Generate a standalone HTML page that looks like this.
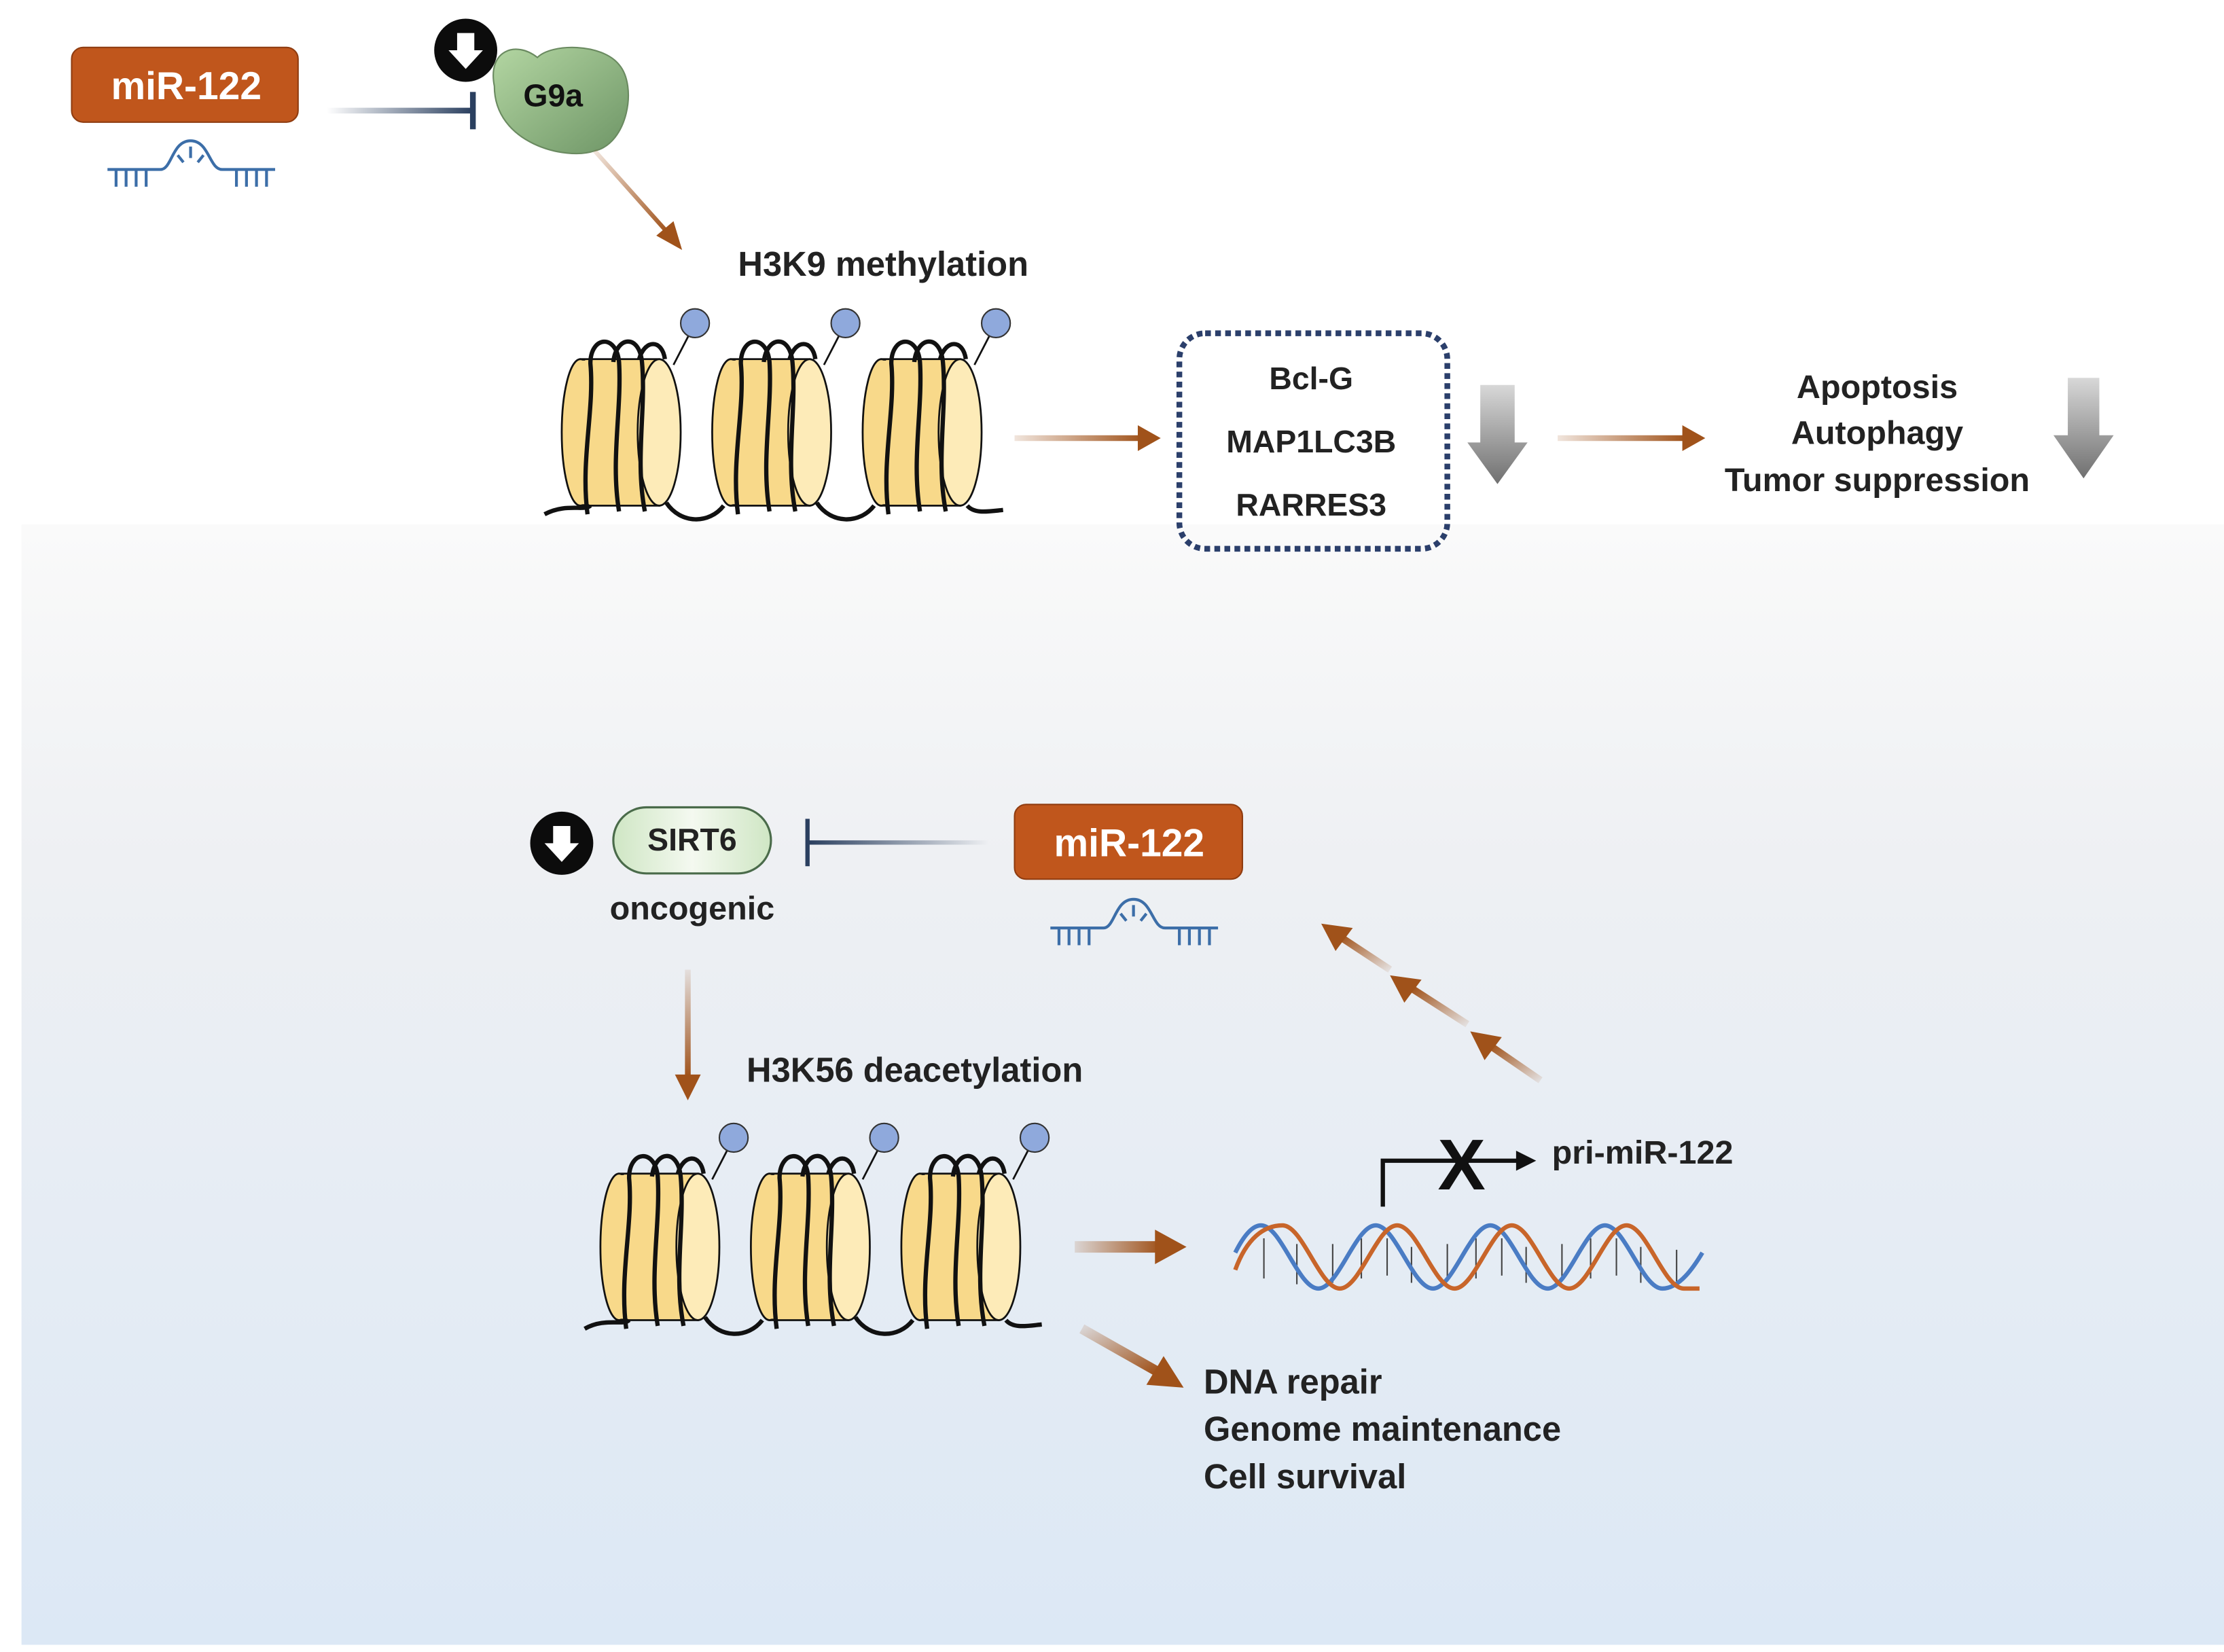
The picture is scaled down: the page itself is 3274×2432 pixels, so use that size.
<!DOCTYPE html>
<html><head><meta charset="utf-8"><style>
html,body{margin:0;padding:0;background:#fff}
svg{display:block}
text{font-family:"Liberation Sans",sans-serif;font-weight:bold}
</style></head><body>
<svg width="3274" height="2432" viewBox="0 0 1552 1150" preserveAspectRatio="none" xmlns="http://www.w3.org/2000/svg">
<defs>
<linearGradient id="bg" x1="0" y1="0" x2="0" y2="1"><stop offset="0" stop-color="#fafafa"/><stop offset="0.3" stop-color="#eef0f3"/><stop offset="1" stop-color="#dce8f5"/></linearGradient>
<linearGradient id="g9a" x1="0" y1="0" x2="1" y2="1"><stop offset="0" stop-color="#b3d6a2"/><stop offset="1" stop-color="#6e9566"/></linearGradient>
<linearGradient id="sirt" x1="0" y1="0" x2="1" y2="0"><stop offset="0" stop-color="#cfe6c4"/><stop offset="0.5" stop-color="#f4f9f0"/><stop offset="1" stop-color="#cfe6c4"/></linearGradient>
<linearGradient id="inhL" x1="0" y1="0" x2="1" y2="0"><stop offset="0" stop-color="#2a3f5f" stop-opacity="0"/><stop offset="1" stop-color="#2a3f5f"/></linearGradient>
<linearGradient id="inhR" x1="1" y1="0" x2="0" y2="0"><stop offset="0" stop-color="#2a3f5f" stop-opacity="0"/><stop offset="1" stop-color="#2a3f5f"/></linearGradient>
<linearGradient id="brH" x1="0" y1="0" x2="1" y2="0"><stop offset="0" stop-color="#a0521a" stop-opacity="0.15"/><stop offset="1" stop-color="#a0521a"/></linearGradient>
<linearGradient id="brV" x1="0" y1="0" x2="0" y2="1"><stop offset="0" stop-color="#a0521a" stop-opacity="0.1"/><stop offset="1" stop-color="#a0521a"/></linearGradient>
<linearGradient id="brD" x1="0" y1="0" x2="1" y2="1"><stop offset="0" stop-color="#a0521a" stop-opacity="0.15"/><stop offset="1" stop-color="#a0521a"/></linearGradient>
<linearGradient id="brU" x1="1" y1="1" x2="0" y2="0"><stop offset="0" stop-color="#a0521a" stop-opacity="0.1"/><stop offset="1" stop-color="#a0521a"/></linearGradient>
<linearGradient id="gray" x1="0" y1="0" x2="0" y2="1"><stop offset="0" stop-color="#d8d8d8"/><stop offset="1" stop-color="#707070"/></linearGradient>
<g id="nuc">
 <rect x="15" y="0" width="55" height="102" fill="#f8d98a" stroke="#111" stroke-width="1.3"/>
 <ellipse cx="15" cy="51" rx="13" ry="51" fill="#f8d98a" stroke="#111" stroke-width="1.3"/>
 <rect x="15" y="1" width="55" height="100" fill="#f8d98a"/>
 <ellipse cx="70" cy="51" rx="15" ry="51" fill="#fdebb8" stroke="#111" stroke-width="1.3"/>
 <path d="M20 108 C15 70 25 35 22 3 C22 -16 40 -18 42 2 C44 35 36 70 42 106" fill="none" stroke="#111" stroke-width="3"/>
 <path d="M38 2 C40 -16 56 -18 58 2 C61 35 53 70 60 106" fill="none" stroke="#111" stroke-width="3"/>
 <path d="M56 0 C60 -14 72 -14 74 0" fill="none" stroke="#111" stroke-width="3"/>
 <line x1="80" y1="4" x2="95" y2="-25" stroke="#111" stroke-width="1.3"/>
 <circle cx="95" cy="-25" r="10" fill="#8fa9dc" stroke="#333" stroke-width="1"/>
</g>
<g id="rna" fill="none" stroke="#3c6ea8" stroke-width="2">
 <path d="M0 0 H37 C45 0 45 -20 58 -20 C71 -20 71 0 80 0 H117"/>
 <path d="M6 0 V12 M13 0 V12 M20 0 V12 M27 0 V12 M90 0 V12 M97 0 V12 M104 0 V12 M111 0 V12 M49 -10 L53 -5 M58 -16 V-8 M67 -10 L63 -5"/>
</g>
<g id="dn">
 <circle r="22" fill="#0c0c0c"/>
 <path d="M-6 -12 H6 V0 H12 L0 13 L-12 0 H-6 Z" fill="#fff"/>
</g>
</defs>

<rect x="15" y="365" width="1537" height="780" fill="url(#bg)"/>

<!-- TOP -->
<rect x="50" y="33" width="158" height="52" rx="8" fill="#c0561c" stroke="#8f3c10" stroke-width="1"/>
<text x="130" y="69" font-size="27" fill="#fff" text-anchor="middle">miR-122</text>
<use href="#rna" x="75" y="118"/>
<rect x="228" y="75" width="102" height="4" fill="url(#inhL)"/>
<rect x="328" y="64" width="4" height="26" fill="#2a3f5f"/>
<path d="M345 60 C340 35 360 28 375 40 C385 30 420 30 432 45 C445 60 438 100 415 105 C395 112 345 100 345 60 Z" fill="url(#g9a)" stroke="#6a8a60" stroke-width="1"/>
<text x="386" y="74" font-size="22" fill="#111" text-anchor="middle">G9a</text>
<use href="#dn" x="325" y="35"/>
<line x1="415" y1="105" x2="466" y2="162" stroke="url(#brD)" stroke-width="3"/>
<path d="M476 174 L458 164 L470 154 Z" fill="#a0521a"/>
<text x="515" y="192" font-size="24" fill="#222">H3K9 methylation</text>

<use href="#nuc" x="390" y="250"/>
<use href="#nuc" x="495" y="250"/>
<use href="#nuc" x="600" y="250"/>
<path d="M380 358 C395 350 408 356 412 352 M465 350 C475 365 495 365 505 352 M570 350 C580 365 600 365 610 352 M675 352 C680 358 690 356 700 355" fill="none" stroke="#111" stroke-width="3"/>

<rect x="708" y="303" width="90" height="4" fill="url(#brH)"/>
<path d="M810 305 L794 296 L794 314 Z" fill="#a0521a"/>
<rect x="823" y="232" width="187" height="150" rx="18" fill="none" stroke="#2b3f6b" stroke-width="4" stroke-dasharray="4 3"/>
<text x="915" y="271" font-size="22" fill="#222" text-anchor="middle">Bcl-G</text>
<text x="915" y="315" font-size="22" fill="#222" text-anchor="middle">MAP1LC3B</text>
<text x="915" y="359" font-size="22" fill="#222" text-anchor="middle">RARRES3</text>
<path d="M1033 268 H1057 V308 H1066 L1045 337 L1024 308 H1033 Z" fill="url(#gray)"/>
<rect x="1087" y="303" width="90" height="4" fill="url(#brH)"/>
<path d="M1190 305 L1174 296 L1174 314 Z" fill="#a0521a"/>
<text x="1310" y="277" font-size="23" fill="#222" text-anchor="middle">Apoptosis</text>
<text x="1310" y="309" font-size="23" fill="#222" text-anchor="middle">Autophagy</text>
<text x="1310" y="342" font-size="23" fill="#222" text-anchor="middle">Tumor suppression</text>
<path d="M1443 263 H1465 V303 H1475 L1454 333 L1433 303 H1443 Z" fill="url(#gray)"/>

<!-- BOTTOM -->
<use href="#dn" x="392" y="587"/>
<rect x="428" y="562" width="110" height="46" rx="23" fill="url(#sirt)" stroke="#4a6b4a" stroke-width="1.5"/>
<text x="483" y="592" font-size="22" fill="#222" text-anchor="middle">SIRT6</text>
<text x="483" y="640" font-size="23" fill="#222" text-anchor="middle">oncogenic</text>
<rect x="562" y="570" width="3" height="33" fill="#2a3f5f"/>
<rect x="564" y="585" width="126" height="3" fill="url(#inhR)"/>
<rect x="708" y="560" width="159" height="52" rx="8" fill="#c0561c" stroke="#8f3c10" stroke-width="1"/>
<text x="788" y="596" font-size="27" fill="#fff" text-anchor="middle">miR-122</text>
<use href="#rna" x="733" y="646"/>

<rect x="478" y="675" width="4" height="75" fill="url(#brV)"/>
<path d="M480 766 L471 748 L489 748 Z" fill="#a0521a"/>
<text x="521" y="753" font-size="24" fill="#222">H3K56 deacetylation</text>

<use href="#nuc" x="417" y="817"/>
<use href="#nuc" x="522" y="817"/>
<use href="#nuc" x="627" y="817"/>
<path d="M408 925 C422 917 435 923 439 919 M492 917 C502 932 522 932 532 919 M597 917 C607 932 627 932 637 919 M702 919 C707 925 717 923 727 922" fill="none" stroke="#111" stroke-width="3"/>

<rect x="750" y="864" width="60" height="8" fill="url(#brH)"/>
<path d="M828 868 L806 856 L806 880 Z" fill="#a0521a"/>
<line x1="755" y1="925" x2="808" y2="955" stroke="url(#brD)" stroke-width="7"/>
<path d="M826 966 L800 964 L812 944 Z" fill="#a0521a"/>
<text x="840" y="970" font-size="24" fill="#222">DNA repair</text>
<text x="840" y="1003" font-size="24" fill="#222">Genome maintenance</text>
<text x="840" y="1036" font-size="24" fill="#222">Cell survival</text>

<!-- helix -->
<g stroke="#444" stroke-width="1">
<path d="M882 862V890M905 866V894M930 866V893M950 862V890M968 862V888M985 868V893M1010 866V892M1030 862V890M1048 862V888M1065 868V893M1090 866V892M1110 862V890M1128 862V888M1145 868V893M1170 870V892"/>
</g>
<path d="M862 872 C868 860 874 853 880 853 C894 853 906 897 920 897 C934 897 946 853 960 853 C974 853 986 897 1000 897 C1014 897 1026 853 1040 853 C1054 853 1066 897 1080 897 C1094 897 1106 853 1120 853 C1134 853 1146 897 1160 897 C1172 897 1182 882 1188 872" fill="none" stroke="#4a7cc4" stroke-width="3"/>
<path d="M862 884 C870 862 882 853 895 853 C909 853 921 897 935 897 C949 897 961 853 975 853 C989 853 1001 897 1015 897 C1029 897 1041 853 1055 853 C1069 853 1081 897 1095 897 C1109 897 1121 853 1135 853 C1149 853 1161 897 1175 897 L1186 897" fill="none" stroke="#c8652a" stroke-width="3"/>

<path d="M965 840 V808 H1060" fill="none" stroke="#111" stroke-width="3"/>
<path d="M1072 808 L1058 801 L1058 815 Z" fill="#111"/>
<text x="1020" y="828" font-size="50" fill="#111" text-anchor="middle">X</text>
<text x="1083" y="810" font-size="23" fill="#222">pri-miR-122</text>

<!-- upward dashed arrows -->
<line x1="1075" y1="752" x2="1040" y2="728" stroke="url(#brU)" stroke-width="5"/>
<path d="M1026 718 L1048 722 L1036 738 Z" fill="#a0521a"/>
<line x1="1024" y1="713" x2="985" y2="688" stroke="url(#brU)" stroke-width="5"/>
<path d="M970 679 L992 682 L980 698 Z" fill="#a0521a"/>
<line x1="970" y1="675" x2="935" y2="652" stroke="url(#brU)" stroke-width="5"/>
<path d="M922 643 L944 646 L932 662 Z" fill="#a0521a"/>
</svg>
</body></html>
